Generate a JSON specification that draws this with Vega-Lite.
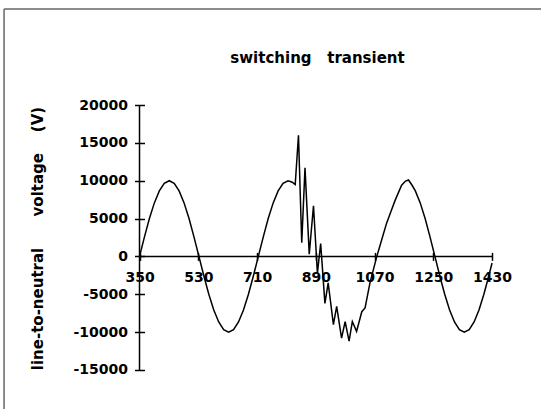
{
  "$schema": "https://vega.github.io/schema/vega-lite/v6.json",
  "width": 541,
  "height": 409,
  "autosize": {"type": "none"},
  "padding": 0,
  "background": "white",
  "config": {"view": {"stroke": null}},
  "title": {
    "text": "switching\u00a0\u00a0 transient",
    "font": "DejaVu Sans",
    "fontSize": 15,
    "fontWeight": "bold",
    "color": "black",
    "anchor": "middle",
    "frame": "group",
    "dx": 47,
    "offset": -66
  },
  "datasets": {
    "wave": [
      {"t": 350, "v": 0}, {"t": 365.2, "v": 2588}, {"t": 380.3, "v": 5000}, {"t": 395.5, "v": 7071},
      {"t": 410.7, "v": 8660}, {"t": 425.8, "v": 9659}, {"t": 441, "v": 10000}, {"t": 456.2, "v": 9659},
      {"t": 471.3, "v": 8660}, {"t": 486.5, "v": 7071}, {"t": 501.7, "v": 5000}, {"t": 516.8, "v": 2588},
      {"t": 532, "v": 0}, {"t": 547.2, "v": -2588}, {"t": 562.3, "v": -5000}, {"t": 577.5, "v": -7071},
      {"t": 592.7, "v": -8660}, {"t": 607.8, "v": -9659}, {"t": 623, "v": -10000}, {"t": 638.2, "v": -9659},
      {"t": 653.3, "v": -8660}, {"t": 668.5, "v": -7071}, {"t": 683.7, "v": -5000}, {"t": 698.8, "v": -2588},
      {"t": 714, "v": 0}, {"t": 729.2, "v": 2588}, {"t": 744.3, "v": 5000}, {"t": 759.5, "v": 7071},
      {"t": 774.7, "v": 8660}, {"t": 789.8, "v": 9659}, {"t": 805, "v": 10000}, {"t": 818, "v": 9800},
      {"t": 827, "v": 9500}, {"t": 837, "v": 16000}, {"t": 847, "v": 1800}, {"t": 857, "v": 11700},
      {"t": 870, "v": 300}, {"t": 883, "v": 6700}, {"t": 895, "v": -2200}, {"t": 905, "v": 1700},
      {"t": 918, "v": -6200}, {"t": 928, "v": -3500}, {"t": 944, "v": -9000}, {"t": 954, "v": -6600},
      {"t": 969, "v": -10800}, {"t": 980, "v": -8600}, {"t": 992, "v": -11200}, {"t": 1002, "v": -8600},
      {"t": 1015, "v": -9900}, {"t": 1031, "v": -7300}, {"t": 1041, "v": -6800}, {"t": 1056, "v": -3500},
      {"t": 1077, "v": 0}, {"t": 1092, "v": 2200}, {"t": 1107, "v": 4400}, {"t": 1120, "v": 5900},
      {"t": 1133, "v": 7400}, {"t": 1153, "v": 9400}, {"t": 1165, "v": 9950}, {"t": 1174, "v": 10100},
      {"t": 1185, "v": 9400}, {"t": 1195, "v": 8660}, {"t": 1210, "v": 7071}, {"t": 1225, "v": 5000},
      {"t": 1240, "v": 2588}, {"t": 1255, "v": 0}, {"t": 1270, "v": -2588}, {"t": 1285, "v": -5000},
      {"t": 1300, "v": -7071}, {"t": 1315, "v": -8660}, {"t": 1330, "v": -9659}, {"t": 1345, "v": -10000},
      {"t": 1360, "v": -9659}, {"t": 1375, "v": -8660}, {"t": 1390, "v": -7071}, {"t": 1405, "v": -5000},
      {"t": 1420, "v": -2588}, {"t": 1430, "v": -870}
    ],
    "axislines": [
      {"t": 350, "t2": 350, "v": -15000, "v2": 20000},
      {"t": 350, "t2": 1430, "v": 0, "v2": 0}
    ],
    "frame": [
      {"t": -65, "t2": 1800, "v": 32679, "v2": 32679},
      {"t": -65, "t2": -65, "v": 32679, "v2": -25000}
    ]
  },
  "encoding": {
    "x": {
      "field": "t", "type": "quantitative",
      "scale": {"domain": [-77.4, 1580], "nice": false, "zero": false},
      "axis": {
        "orient": "bottom", "offset": -156.6, "domain": false, "grid": false,
        "values": [350, 530, 710, 890, 1070, 1250, 1430],
        "labelExpr": "'' + datum.value",
        "tickSize": 8, "tickWidth": 1.5, "tickColor": "black",
        "labelPadding": 10, "labelFont": "DejaVu Sans", "labelFontSize": 14,
        "labelFontWeight": "bold", "labelColor": "black",
        "labelOverlap": false, "labelFlush": false, "title": null
      }
    },
    "y": {
      "field": "v", "type": "quantitative",
      "scale": {"domain": [-20151, 33868], "nice": false, "zero": false},
      "axis": {
        "orient": "left", "offset": -144.5, "domain": false, "grid": false,
        "values": [-15000, -10000, -5000, 0, 5000, 10000, 15000, 20000],
        "labelExpr": "'' + datum.value",
        "tickSize": 10, "tickWidth": 1.5, "tickColor": "black",
        "labelPadding": 7, "labelFont": "DejaVu Sans", "labelFontSize": 14,
        "labelFontWeight": "bold", "labelColor": "black",
        "labelOverlap": false, "labelFlush": false,
        "title": "line-to-neutral\u00a0\u00a0\u00a0\u00a0\u00a0 voltage\u00a0\u00a0\u00a0 (V)",
        "titleFont": "DejaVu Sans", "titleFontSize": 15, "titleFontWeight": "bold",
        "titleColor": "black", "titleAngle": -90, "titleX": -107.5, "titleY": 238,
        "titleAlign": "center", "titleBaseline": "middle"
      }
    }
  },
  "layer": [
    {
      "data": {"name": "frame"},
      "mark": {"type": "rule", "color": "#666666", "strokeWidth": 1.5},
      "encoding": {"x2": {"field": "t2"}, "y2": {"field": "v2"}}
    },
    {
      "data": {"name": "axislines"},
      "mark": {"type": "rule", "color": "black", "strokeWidth": 1.5},
      "encoding": {"x2": {"field": "t2"}, "y2": {"field": "v2"}}
    },
    {
      "data": {"name": "wave"},
      "mark": {"type": "line", "color": "black", "strokeWidth": 1.5},
      "encoding": {"order": {"field": "t", "type": "quantitative"}}
    }
  ]
}
